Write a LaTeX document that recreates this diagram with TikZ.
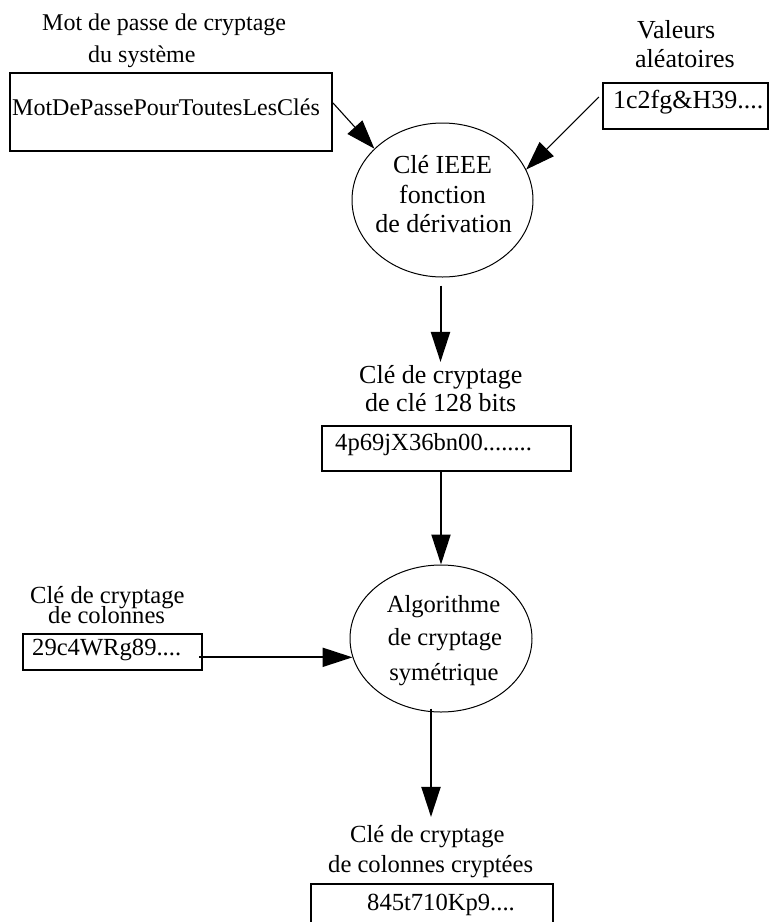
\documentclass[tikz,border=0pt]{standalone}
\usepackage{fontspec}
\setmainfont{Liberation Serif}
\usetikzlibrary{arrows.meta,shapes.geometric,calc}
\begin{document}
\begin{tikzpicture}[x=1pt,y=-1pt,
  box/.style={draw, line width=2.1pt, rectangle, inner sep=0pt},
  ell/.style={draw, ellipse, line width=1pt, inner sep=0pt},
  txt/.style={anchor=base west, inner sep=0pt, font=\fontsize{24.6}{30}\selectfont},
  txtc/.style={anchor=base, inner sep=0pt, font=\fontsize{24.6}{30}\selectfont},
  big/.style={font=\fontsize{26}{30}\selectfont},
  small/.style={font=\fontsize{24}{30}\selectfont},
  arr/.style={-{Triangle[length=30pt,width=19pt]}, line width=2pt},
  thinarr/.style={-{Triangle[length=29pt,width=20pt]}, line width=1.1pt}
]
\fill[white] (0,0) rectangle (773,922);
\useasboundingbox (0,0) rectangle (773,922);

% top-left input
\node[txt, small] (t1a) at (42,30) {Mot de passe de cryptage};
\node[txt, small] (t1b) at (88,62) {du système};
\node[box, minimum width=322pt, minimum height=78pt] (b1) at (171,112) {};
\node[txt, small] (b1t) at (12,115) {MotDePassePourToutesLesClés};

% top-right input
\node[txt, big] (tRa) at (637,38) {Valeurs};
\node[txt, big] (tRb) at (635,67) {aléatoires};
\node[box, minimum width=165pt, minimum height=46pt] (bR) at (685.5,106) {};
\node[txt, big] (bRt) at (613,108) {1c2fg\&H39....};

% key derivation ellipse
\node[ell, minimum width=181pt, minimum height=154pt] (e1) at (442.5,200) {};
\node[txtc, big] (e1a) at (442.5,173) {Clé IEEE};
\node[txtc, big] (e1b) at (442.5,203) {fonction};
\node[txtc, big] (e1c) at (443.5,232) {de dérivation};

% 128-bit key
\node[txt, big] (t2a) at (359,383) {Clé de cryptage};
\node[txt, big] (t2b) at (365,411) {de clé 128 bits};
\node[box, minimum width=249pt, minimum height=45pt] (b2) at (446.5,448.5) {};
\node[txt] (b2t) at (335,450) {4p69jX36bn00........};

% column key
\node[txt] (t3a) at (30,603) {Clé de cryptage};
\node[txt] (t3b) at (48,623) {de colonnes};
\node[box, minimum width=179pt, minimum height=36pt] (b3) at (112.5,652) {};
\node[txt] (b3t) at (32,655) {29c4WRg89....};

% symmetric algorithm ellipse
\node[ell, minimum width=182pt, minimum height=147pt] (e2) at (441,638.5) {};
\node[txtc] (e2a) at (443.5,612) {Algorithme};
\node[txtc] (e2b) at (445,645) {de cryptage};
\node[txtc] (e2c) at (444,680) {symétrique};

% encrypted column key
\node[txt] (t4a) at (350,842) {Clé de cryptage};
\node[txt] (t4b) at (328,872) {de colonnes cryptées};
\node[box, minimum width=242pt, minimum height=58pt] (b4) at (432,913) {};
\node[txt] (b4t) at (367,910) {845t710Kp9....};

% connectors
\draw[thinarr] ([yshift=9pt]b1.east) -- (e1.143);
\draw[thinarr] ([xshift=-3pt,yshift=9pt]bR.west) -- (e1.20);
\draw[arr] ($(e1.south)+(-2,8)$) -- ($(e1.south |- b2.north)+(-2,-63)$);
\draw[arr] (b2.south -| e2.north) -- (e2.north);
\draw[arr] ($(b3.east |- e2.192)+(-4,0)$) -- (e2.192);
\draw[arr] ($(e2.south -| b4.north)+(-1,-4)$) -- ($(b4.north)+(-1,-66)$);
\end{tikzpicture}
\end{document}
